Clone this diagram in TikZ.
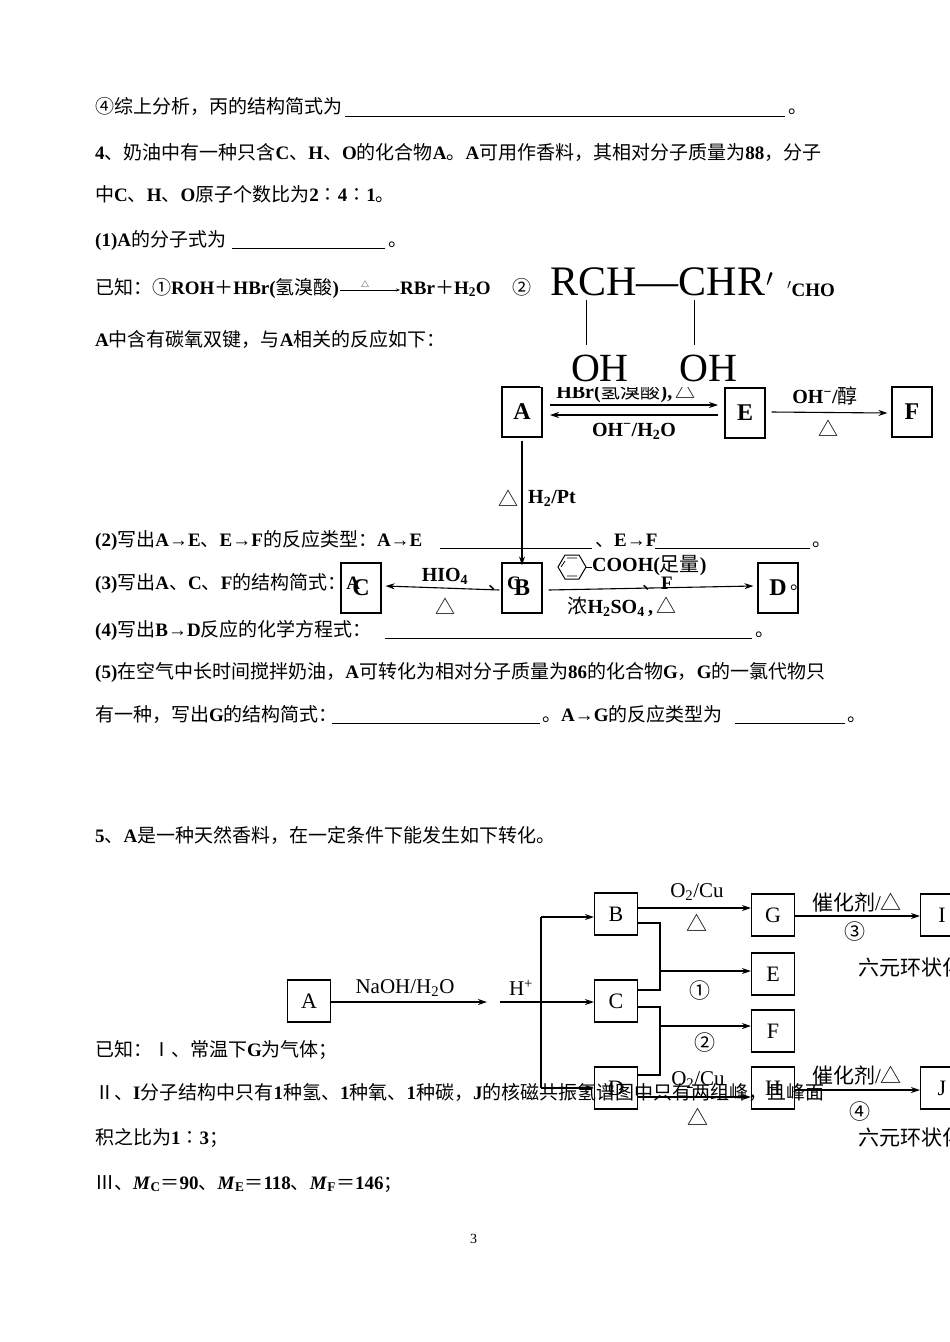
\documentclass[tikz,border=0pt]{standalone}
\usepackage{fontspec}
\setmainfont{Noto Sans CJK SC}
\newfontfamily\cjf{Noto Sans CJK SC}
\newfontfamily\lat{Liberation Serif}
\usetikzlibrary{arrows.meta}
\newcommand\Ls[1]{{\lat\bfseries #1}}
\newcommand\cj[1]{{\cjf\mdseries #1}}
\newcommand\sub[1]{\textsubscript{#1}}
\tikzset{
 tx/.style={anchor=base west,inner sep=0pt,font=\fontsize{19}{19}\selectfont},
 bx/.style={draw,line width=1.2pt,minimum width=40pt,minimum height=50pt,inner sep=0pt,font=\lat\bfseries\fontsize{24}{24}\selectfont},
 bx2/.style={draw,line width=1.1pt,minimum width=43pt,minimum height=42pt,inner sep=0pt,font=\lat\fontsize{22}{22}\selectfont},
 ar/.style={line width=1.1pt,-{Stealth[length=9pt,width=6pt]}},
 ln/.style={line width=1.1pt},
 lb/.style={inner sep=0pt,font=\lat\bfseries\fontsize{20}{20}\selectfont},
 lb2/.style={inner sep=0pt,font=\lat\fontsize{21}{21}\selectfont},
 ul/.style={line width=0.8pt}
}
\begin{document}
\begin{tikzpicture}[x=1pt,y=-1pt]
\fill[white] (0,0) rectangle (950,1342);
\useasboundingbox (0,0) rectangle (950,1342);
% ---------- diagram 1 ----------
\node[bx] (A1) at (522,412) {A};
\node[bx] (E1) at (745,413) {E};
\node[bx] (F1) at (912,412) {F};
\node[bx] (B1) at (522,588) {B};
\node[bx] (D1) at (778,588) {D};
\node[bx] (C1) at (361,588) {C};
\coordinate (ae1) at (550,405); \coordinate (ae2) at (718,405);
\draw[ar] (ae1) -- (ae2);
\coordinate (ea1) at (718,415); \coordinate (ea2) at (550,415);
\draw[ar] (ea1) -- (ea2);
\node[lb] (l1) at (626,392) {HBr(\cj{氢溴酸}),\,\cj{△}};
\node[lb] (l2) at (634,431) {OH\textsuperscript{−}/H\sub{2}O};
\draw[ar] (E1.east) ++(6,-1) coordinate (ef1) -- ([xshift=-4pt,yshift=-1pt]F1.west) coordinate (ef2);
\node[lb] (l3) at (825,396) {OH\textsuperscript{−}/\cj{醇}};
\node[lb] (l4) at (828,428) {\cj{△}};
\draw[ar] (A1.south) ++(0,3) -- ([yshift=-3pt]B1.north);
\node[lb] (l5) at (508,498) {\cj{△}};
\node[lb,anchor=west] (l6) at (528,498) {H\sub{2}/Pt};
\draw[ar] (B1.east) ++(6,2) -- ([xshift=-4pt,yshift=2pt]D1.west);
\draw[ar] (B1.west) ++(-2,2) -- ([xshift=4pt,yshift=2pt]C1.east);
\node[lb] (l7) at (445,576) {HIO\sub{4}};
\node[lb] (l8) at (445,606) {\cj{△}};
\draw[line width=1pt] (558,567)--(565,555)--(579,555)--(586,567)--(579,579)--(565,579)--cycle;
\draw[line width=0.8pt] (567,558)--(577,558) (567,576)--(577,576) (561,567)--(565,561);
\draw[line width=1pt] (586,567)--(592,567);
\node[lb,anchor=west] (l9) at (592,566) {COOH(\cj{足量})};
\node[lb] (l10) at (622,607) {\cj{浓}H\sub{2}SO\sub{4}\,,\,\cj{△}};
% structure image
\fill[white] (540,257) rectangle (787,387);
\node[inner sep=0pt,font=\lat\fontsize{42}{42}\selectfont] (s1) at (662,282) {RCH—CHR\kern1pt$'$};
\node[inner sep=0pt,font=\lat\fontsize{40}{40}\selectfont] (s2) at (600,368) {OH};
\node[inner sep=0pt,font=\lat\fontsize{40}{40}\selectfont] (s3) at (708,368) {OH};
\draw[line width=1pt] (586,300)--(586,345) (694,300)--(694,345);
\node[tx] (cho) at (787,296) {\Ls{$'$CHO}};
% ---------- diagram 2 ----------
\node[bx2] (A2) at (309,1001) {A};
\node[bx2] (B2) at (616,914) {B};
\node[bx2] (C2) at (616,1001) {C};
\node[bx2] (D2) at (616,1088) {D};
\node[bx2] (G2) at (773,915) {G};
\node[bx2] (E2) at (773,974) {E};
\node[bx2] (F2) at (773,1031) {F};
\node[bx2] (H2) at (773,1088) {H};
\node[bx2] (I2) at (942,915) {I};
\node[bx2] (J2) at (942,1088) {J};
\coordinate (hp) at (487,1002);
\draw[ar] (A2.east |- 0,1002) -- (hp);
\node[lb2] (n1) at (405,988) {NaOH/H\sub{2}O};
\node[lb2] (n2) at (521,988) {H\textsuperscript{+}};
\coordinate (vt) at (541,917); \coordinate (vb) at (541,1088);
\draw[ln] (500,1002) -- (541,1002);
\draw[ln] (vt) -- (vb);
\draw[ar] (vt) -- (B2.west |- vt);
\draw[ar] (541,1002) -- (C2.west |- 0,1002);
\draw[ar] (vb) -- (D2.west |- vb);
\draw[ar] (B2.east |- 0,908) -- (G2.west |- 0,908);
\node[lb2] (n3) at (697,892) {O\sub{2}/Cu};
\node[lb2] (n4) at (697,923) {\cj{△}};
\draw[ar] (G2.east |- 0,916) -- (I2.west |- 0,916);
\node[lb2] (n5) at (857,902) {\cj{催化剂}/\cj{△}};
\node[lb2] (n6) at (855,932) {\cj{③}};
\node[lb2,anchor=west] (n7) at (858,967) {\cj{六元环状化合物}};
\draw[ln] (B2.east |- 0,923) -| (660,990) -- (C2.east |- 0,990);
\draw[ar] (660,971) -- (E2.west |- 0,971);
\node[lb2] (n8) at (700,991) {\cj{①}};
\draw[ln] (C2.east |- 0,1007) -| (660,1075) -- (D2.east |- 0,1075);
\draw[ar] (660,1026) -- (F2.west |- 0,1026);
\node[lb2] (n9) at (705,1043) {\cj{②}};
\draw[ar] (D2.east |- 0,1097) -- (H2.west |- 0,1097);
\node[lb2] (n10) at (698,1080) {O\sub{2}/Cu};
\node[lb2] (n11) at (698,1117) {\cj{△}};
\draw[ar] (H2.east |- 0,1090) -- (J2.west |- 0,1090);
\node[lb2] (n12) at (857,1075) {\cj{催化剂}/\cj{△}};
\node[lb2] (n13) at (860,1112) {\cj{④}};
\node[lb2,anchor=west] (n14) at (858,1137) {\cj{六元环状化合物}};
% ---------- text ----------
\node[tx] (t1) at (95,113) {④综上分析，丙的结构简式为};
\draw[ul] (345,116)--(785,116); \node[tx] (t1b) at (788,113) {。};
\node[tx] (t2) at (95,159) {\Ls{4}、奶油中有一种只含\Ls{C}、\Ls{H}、\Ls{O}的化合物\Ls{A}。\Ls{A}可用作香料，其相对分子质量为\Ls{88}，分子};
\node[tx] (t3) at (95,201) {中\Ls{C}、\Ls{H}、\Ls{O}原子个数比为\Ls{2}∶\Ls{4}∶\Ls{1}。};
\node[tx] (t4) at (95,246) {\Ls{(1)A}的分子式为};
\draw[ul] (232,248)--(385,248); \node[tx] (t4b) at (388,246) {。};
\node[tx] (t5) at (95,294) {已知：①\Ls{ROH}＋\Ls{HBr(}氢溴酸\Ls{)}};
\draw[line width=0.8pt,-{Stealth[length=4pt]}] (340,290)--(400,290);
\node[inner sep=0pt,font=\fontsize{8}{8}\selectfont] (dl) at (365,284) {△};
\node[tx] (t5b) at (400,294) {\Ls{RBr}＋\Ls{H\sub{2}O}};
\node[tx] (t5c) at (512,294) {②};
\node[tx] (t6) at (95,346) {\Ls{A}中含有碳氧双键，与\Ls{A}相关的反应如下：};
\node[tx] (t7) at (95,546) {\Ls{(2)}写出\Ls{A→E}、\Ls{E→F}的反应类型：\Ls{A→E}};
\draw[ul] (440,548)--(592,548); \node[tx] (t7b) at (595,546) {、\Ls{E→F}};
\draw[ul] (655,548)--(810,548); \node[tx] (t7c) at (812,546) {。};
\node[tx] (t8) at (95,589) {\Ls{(3)}写出\Ls{A}、\Ls{C}、\Ls{F}的结构简式：\Ls{A}};
\node[tx] (t8b) at (488,589) {、\Ls{C}};
\node[tx] (t8c) at (642,589) {、\Ls{F}};
\node[tx] (t8d) at (790,589) {。};
\node[tx] (t9) at (95,636) {\Ls{(4)}写出\Ls{B→D}反应的化学方程式：};
\draw[ul] (385,638)--(752,638); \node[tx] (t9b) at (755,636) {。};
\node[tx] (t10) at (95,678) {\Ls{(5)}在空气中长时间搅拌奶油，\Ls{A}可转化为相对分子质量为\Ls{86}的化合物\Ls{G}，\Ls{G}的一氯代物只};
\node[tx] (t11) at (95,721) {有一种，写出\Ls{G}的结构简式：};
\draw[ul] (332,723)--(540,723); \node[tx] (t11b) at (542,721) {。\Ls{A→G}的反应类型为};
\draw[ul] (735,723)--(845,723); \node[tx] (t11c) at (847,721) {。};
\node[tx] (t12) at (95,842) {\Ls{5}、\Ls{A}是一种天然香料，在一定条件下能发生如下转化。};
\node[tx] (t13) at (95,1056) {已知：Ⅰ、常温下\Ls{G}为气体；};
\node[tx] (t14) at (95,1099) {Ⅱ、\Ls{I}分子结构中只有\Ls{1}种氢、\Ls{1}种氧、\Ls{1}种碳，\Ls{J}的核磁共振氢谱图中只有两组峰，且峰面};
\node[tx] (t15) at (95,1144) {积之比为\Ls{1}∶\Ls{3}；};
\node[tx] (t16) at (95,1189) {Ⅲ、\Ls{\textit{M}\sub{C}}＝\Ls{90}、\Ls{\textit{M}\sub{E}}＝\Ls{118}、\Ls{\textit{M}\sub{F}}＝\Ls{146}；};
\node[tx,font=\lat\fontsize{14}{14}\selectfont] (pg) at (470,1243) {3};
\end{tikzpicture}
\end{document}
